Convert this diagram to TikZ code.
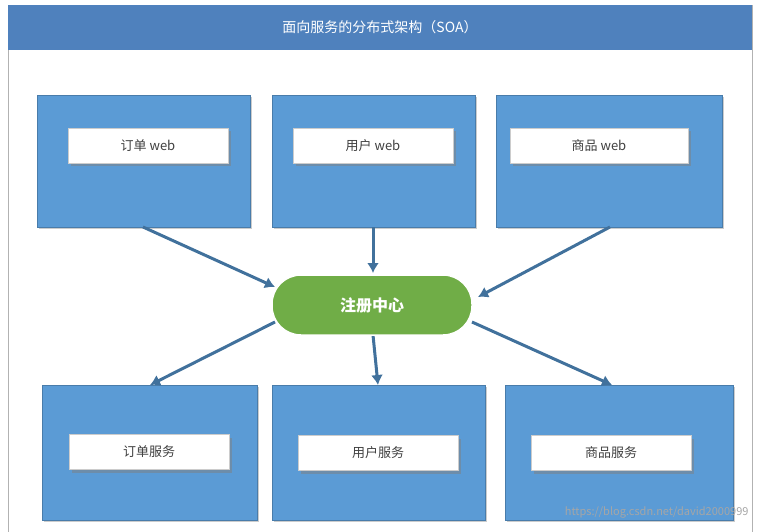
\documentclass[tikz,border=0pt]{standalone}
\usepackage{fontspec}
\setmainfont{Noto Sans CJK SC}
\usetikzlibrary{shadows,arrows.meta}
\definecolor{boxblue}{HTML}{5B9BD5}
\definecolor{titleblue}{HTML}{4F81BD}
\definecolor{arrowblue}{HTML}{41719C}
\definecolor{green1}{HTML}{70AD47}
\tikzset{
 x=1pt,y=-1pt,
 bigbox/.style={draw=boxblue!80!black,fill=boxblue,drop shadow={shadow xshift=2pt,shadow yshift=-2pt,opacity=0.4}},
 label/.style={fill=white,draw=gray!40,minimum width=160pt,minimum height=35pt,font=\fontsize{13}{15}\selectfont,text=black!75,drop shadow={shadow xshift=3pt,shadow yshift=-3pt,opacity=0.5}},
 conn/.style={draw=arrowblue,line width=3pt,-{Latex[length=10pt,width=12pt]}},
}
\begin{document}
\begin{tikzpicture}
\useasboundingbox (0,0) rectangle (758,532);
\draw[gray!60] (8,5) rectangle (752,532);
\node[fill=titleblue,minimum width=744pt,minimum height=45pt,inner sep=0,text=white,font=\fontsize{14}{16}\selectfont] (title) at (380,27.5) {面向服务的分布式架构（SOA）};
\node[bigbox,minimum width=213pt,minimum height=132pt,inner sep=0] (b1) at (143.5,161) {};
\node[bigbox,minimum width=203pt,minimum height=132pt,inner sep=0] (b2) at (373.5,161) {};
\node[bigbox,minimum width=226pt,minimum height=132pt,inner sep=0] (b3) at (609,161) {};
\node[bigbox,minimum width=215pt,minimum height=135pt,inner sep=0] (b4) at (149.5,452.5) {};
\node[bigbox,minimum width=213pt,minimum height=135pt,inner sep=0] (b5) at (378.5,452.5) {};
\node[bigbox,minimum width=228pt,minimum height=135pt,inner sep=0] (b6) at (619,452.5) {};
\node[label] (l1) at (148,146) {订单 web};
\node[label] (l2) at (373,146) {用户 web};
\node[label,minimum width=178pt] (l3) at (599,146) {商品 web};
\node[label] (l4) at (149,452) {订单服务};
\node[label] (l5) at (378,453) {用户服务};
\node[label] (l6) at (611,453) {商品服务};
\coordinate (a1) at (143,227);\coordinate (a2) at (373,227);\coordinate (a3) at (610,227);
\coordinate (c1) at (275,287);\coordinate (c2) at (373,273);\coordinate (c3) at (478,297);
\draw[conn] (a1) -- (c1);
\draw[conn] (a2) -- (c2);
\draw[conn] (a3) -- (c3);
\coordinate (d1) at (275,322);\coordinate (d2) at (373,335);\coordinate (d3) at (472,322);
\coordinate (e1) at (150,385);\coordinate (e2) at (378,385);\coordinate (e3) at (612,385);
\draw[conn] (d1) -- (e1);
\draw[conn] (d2) -- (e2);
\draw[conn] (d3) -- (e3);
\node[rectangle,rounded corners=29pt,fill=green1,draw=white,line width=1.5pt,minimum width=200pt,minimum height=60pt,text=white,font=\bfseries\fontsize{16}{18}\selectfont] (reg) at (372,305) {注册中心};
\node[anchor=east,text=gray!70,font=\fontsize{11}{13}\selectfont] (wm) at (752,512) {https://blog.csdn.net/david2000999};
\end{tikzpicture}
\end{document}
